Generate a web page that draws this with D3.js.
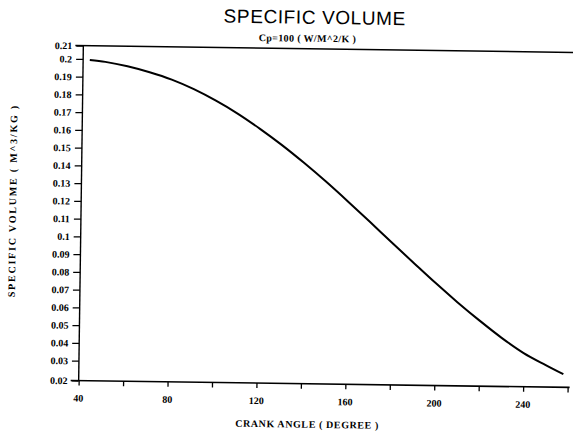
<!DOCTYPE html>
<html>
<head>
<meta charset="utf-8">
<script src="https://cdn.jsdelivr.net/npm/d3@7"></script>
<style>
  body { margin: 0; background: #fff; }
  svg { display: block; }
  .tick-label { font-family: "Liberation Serif", serif; font-weight: bold; font-size: 10px; fill: #000; }
  .axis-title { font-family: "Liberation Serif", serif; font-weight: bold; font-size: 10px; fill: #000; }
</style>
</head>
<body>
<svg id="plot"></svg>
<script>
// crank angle (degrees) vs specific volume (m^3/kg)
const crankAngle = [43, 50, 60, 70, 80, 90, 100, 110, 120, 130, 140, 150, 160, 170, 180, 190, 200, 210, 220, 230, 240, 250, 258];
const specVolume = [0.1995, 0.1985, 0.1962, 0.1930, 0.1890, 0.1838, 0.1775, 0.1703, 0.1620, 0.1530, 0.1432, 0.1328, 0.1218, 0.1105, 0.0990, 0.0877, 0.0765, 0.0658, 0.0557, 0.0462, 0.0378, 0.0312, 0.0262];

const xDomain = [40, 260];
const xTicks = [40, 60, 80, 100, 120, 140, 160, 180, 200, 220, 240, 260];
const xLabels = [40, 80, 120, 160, 200, 240];

const yDomain = [0.0188, 0.2075];
const yTicks = [0.0188, 0.03, 0.04, 0.05, 0.06, 0.07, 0.08, 0.09, 0.1, 0.11, 0.12, 0.13, 0.14, 0.15, 0.16, 0.17, 0.18, 0.19, 0.2, 0.2075];
const yLabels = ["0.02", "0.03", "0.04", "0.05", "0.06", "0.07", "0.08", "0.09", "0.1", "0.11", "0.12", "0.13", "0.14", "0.15", "0.16", "0.17", "0.18", "0.19", "0.2", "0.21"];

const W = 573, H = 437;
const plotLeft = 81, plotRight = 570, plotTop = 49, plotBottom = 384;

const svg = d3.select("#plot").attr("width", W).attr("height", H);

// the scanned page is slightly tilted
const g = svg.append("g").attr("transform", "rotate(0.8,326,215)");

const x = d3.scaleLinear().domain(xDomain).range([plotLeft, plotRight]);
const y = d3.scaleLinear().domain(yDomain).range([plotBottom, plotTop]);

// top frame line
g.append("line")
  .attr("x1", plotLeft - 8).attr("x2", plotRight + 2)
  .attr("y1", plotTop).attr("y2", plotTop)
  .attr("stroke", "#000").attr("stroke-width", 1.6);

// x axis
const xAxis = g.append("g")
  .attr("transform", `translate(0,${plotBottom})`)
  .call(d3.axisBottom(x).tickValues(xTicks).tickSize(5).tickFormat(""));
xAxis.select(".domain").attr("stroke-width", 1.6).attr("d", `M${plotLeft - 8},0H${plotRight + 2}`);
xAxis.selectAll(".tick line").attr("stroke-width", 1.3);

g.selectAll(".xlab")
  .data(xLabels)
  .enter()
  .append("text")
  .attr("class", "tick-label")
  .attr("x", (d) => x(d))
  .attr("y", plotBottom + 21)
  .attr("text-anchor", "middle")
  .text((d) => d);

// y axis
const yAxis = g.append("g")
  .attr("transform", `translate(${plotLeft},0)`)
  .call(d3.axisLeft(y).tickValues(yTicks).tickSize(7).tickFormat((d, i) => yLabels[i]));
yAxis.select(".domain").attr("stroke-width", 1.4).attr("d", `M0,${plotBottom}V${plotTop}`);
yAxis.selectAll(".tick line").attr("stroke-width", 1.3);
yAxis.attr("font-size", null).attr("font-family", null);
yAxis.selectAll(".tick text").attr("class", "tick-label").attr("x", -11);

// curve
const line = d3.line()
  .x((d, i) => x(crankAngle[i]))
  .y((d) => y(d))
  .curve(d3.curveMonotoneX);

g.append("path")
  .datum(specVolume)
  .attr("fill", "none")
  .attr("stroke", "#000")
  .attr("stroke-width", 2)
  .attr("d", line);

// titles
g.append("text")
  .attr("x", 312).attr("y", 24)
  .attr("text-anchor", "middle")
  .style("font-family", "'Liberation Sans', sans-serif")
  .style("font-size", "19px")
  .style("letter-spacing", "0.6px")
  .text("SPECIFIC VOLUME");

g.append("text")
  .attr("class", "axis-title")
  .attr("x", 305).attr("y", 42)
  .attr("text-anchor", "middle")
  .style("letter-spacing", "0.35px")
  .text("Cp=100 ( W/M^2/K )");

g.append("text")
  .attr("class", "axis-title")
  .attr("x", 310).attr("y", 428)
  .attr("text-anchor", "middle")
  .style("letter-spacing", "0.6px")
  .text("CRANK ANGLE ( DEGREE )");

g.append("text")
  .attr("class", "axis-title")
  .attr("transform", "rotate(-90)")
  .attr("x", -205).attr("y", 16)
  .attr("text-anchor", "middle")
  .style("letter-spacing", "1.8px")
  .text("SPECIFIC VOLUME ( M^3/KG )");
</script>
</body>
</html>
